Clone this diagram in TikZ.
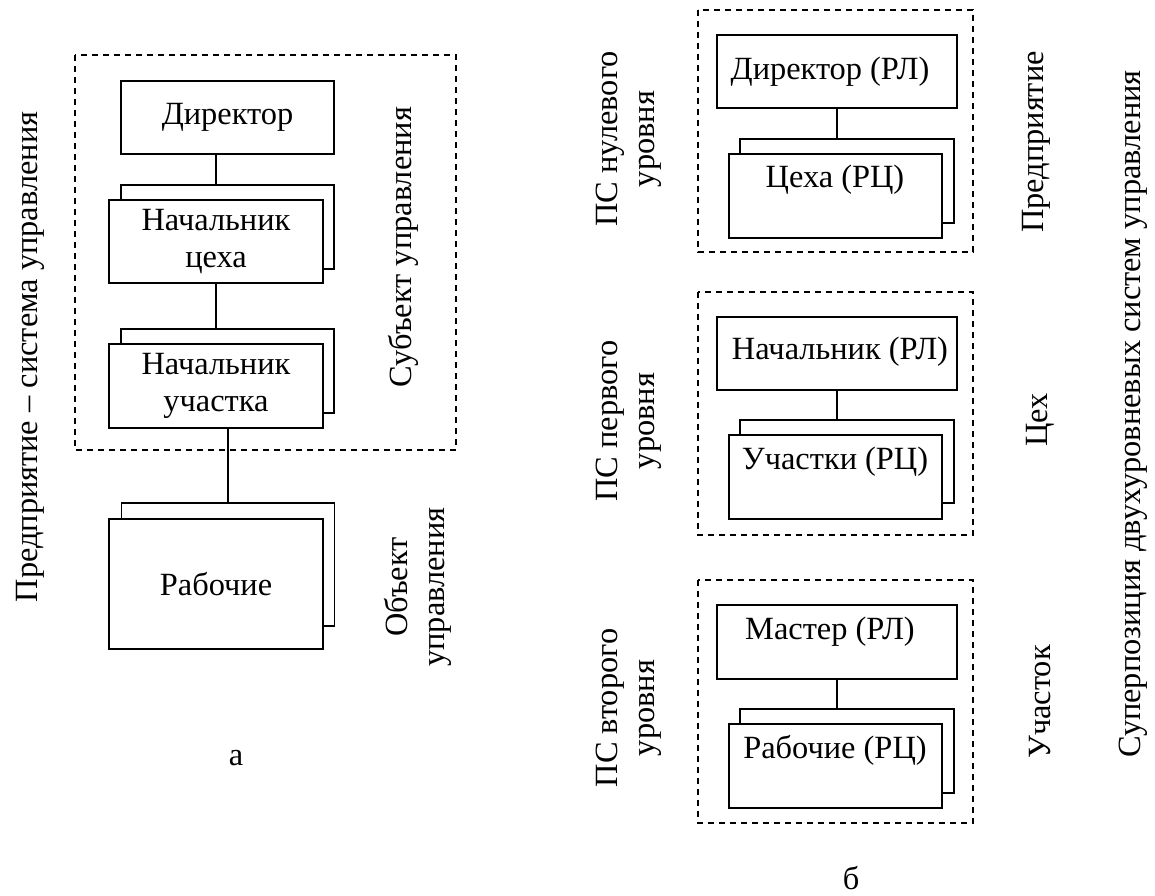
\documentclass[tikz,border=0pt]{standalone}
\usepackage{fontspec}
\setmainfont{Liberation Serif}
\begin{document}
\begin{tikzpicture}[x=1pt,y=-1pt,font=\fontsize{32.4}{37}\selectfont,
  box/.style={draw,line width=1.6pt,fill=white,inner sep=0pt,align=center},
  frame/.style={draw,line width=1.5pt,dash pattern=on 6pt off 5pt},
  link/.style={line width=1.4pt},
  vlabel/.style={rotate=90,align=center,inner sep=0pt}]
  \useasboundingbox (0,0) rectangle (1155,895);
  % part a
  \draw[frame] (75,55) rectangle (456,450);
  \node[box,minimum width=213pt,minimum height=73pt] (dir) at (227.5,117.5) {Директор};
  \node[box,minimum width=213pt,minimum height=84pt] (shopback) at (227.5,227) {};
  \node[box,minimum width=214pt,minimum height=83pt] (shop) at (216,241.5) {Начальник\\цеха};
  \node[box,minimum width=213pt,minimum height=84pt] (sectback) at (227.5,371) {};
  \node[box,minimum width=214pt,minimum height=84pt] (sect) at (216,386) {Начальник\\участка};
  \node[box,minimum width=213pt,minimum height=123pt] (workback) at (228,564.5) {};
  \node[box,minimum width=214pt,minimum height=130pt] (work) at (216,584) {Рабочие};
  \draw[link] (dir.south -| shop.north) -- (shopback.north -| shop.north);
  \draw[link] (shop.south) -- (sectback.north -| shop.south);
  \draw[link] (sect.south -| workback.north) -- (workback.north);
  \node[vlabel] (ent) at (30,357) {Предприятие -- система управления};
  \node[vlabel] (subj) at (403,247) {Субъект управления};
  \node[vlabel] (obj) at (418,587) {Объект\\управления};
  \node (capa) at (236,758) {а};
  % part b, level 0
  \draw[frame] (698,10) rectangle (973,252);
  \node[box,minimum width=240pt,minimum height=73pt] (lead0) at (837,71.5) {};
  \node[box,minimum width=214pt,minimum height=84pt] (unitback0) at (847,181) {};
  \node[box,minimum width=213pt,minimum height=84pt] (unit0) at (835.5,196) {};
  \draw[link] (lead0.south) -- (lead0.south |- unitback0.north);
  \node at (830,72) {Директор (РЛ)};
  \node at (835,180) {Цеха (РЦ)};
  \node[vlabel] (lvl0) at (629,139) {ПС нулевого\\уровня};
  \node[vlabel] (name0) at (1036,142) {Предприятие};
  % part b, level 1
  \draw[frame] (698,292) rectangle (973,535);
  \node[box,minimum width=240pt,minimum height=73pt] (lead1) at (837,353.5) {};
  \node[box,minimum width=214pt,minimum height=83pt] (unitback1) at (847,461.5) {};
  \node[box,minimum width=213pt,minimum height=84pt] (unit1) at (835.5,477) {};
  \draw[link] (lead1.south) -- (lead1.south |- unitback1.north);
  \node at (840,352) {Начальник (РЛ)};
  \node at (835,462) {Участки (РЦ)};
  \node[vlabel] (lvl1) at (629,421) {ПС первого\\уровня};
  \node[vlabel] (name1) at (1040,420) {Цех};
  % part b, level 2
  \draw[frame] (698,580) rectangle (973,823);
  \node[box,minimum width=240pt,minimum height=74pt] (lead2) at (837,642) {};
  \node[box,minimum width=214pt,minimum height=84pt] (unitback2) at (847,751) {};
  \node[box,minimum width=213pt,minimum height=84pt] (unit2) at (835.5,766) {};
  \draw[link] (lead2.south) -- (lead2.south |- unitback2.north);
  \node at (830,632) {Мастер (РЛ)};
  \node at (835,750) {Рабочие (РЦ)};
  \node[vlabel] (lvl2) at (629,708) {ПС второго\\уровня};
  \node[vlabel] (name2) at (1040,702) {Участок};
  \node[vlabel] (super) at (1133,414) {Суперпозиция двухуровневых систем управления};
  \node (capb) at (851,878) {б};
\end{tikzpicture}
\end{document}
